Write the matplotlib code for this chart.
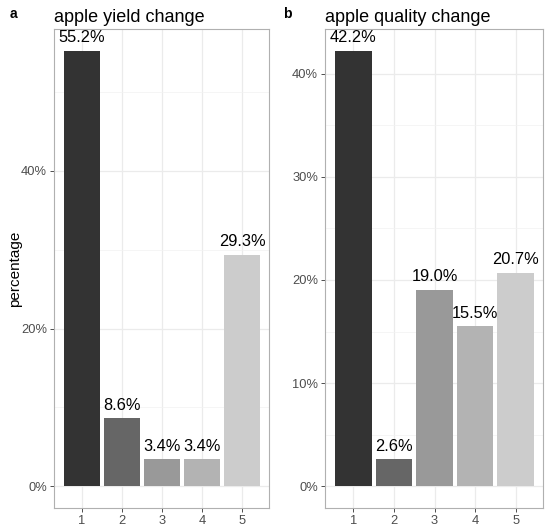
import numpy as np
import matplotlib.pyplot as plt
from matplotlib.ticker import MultipleLocator, FuncFormatter

plt.rcParams['font.family'] = ['Liberation Sans', 'DejaVu Sans']

categories = [1, 2, 3, 4, 5]
yield_pct = [55.2, 8.6, 3.4, 3.4, 29.3]
quality_pct = [42.2, 2.6, 19.0, 15.5, 20.7]
bar_colors = ['#333333', '#666666', '#999999', '#b3b3b3', '#cccccc']


def pct(v, pos):
    return '%d%%' % round(v)


def draw_panel(ax, values, title, major, minor):
    x = np.array(categories)
    top = max(values)
    ax.set_xlim(0.3, 5.67)
    ax.set_ylim(-0.05 * top, top * 1.05)
    ax.yaxis.set_major_locator(MultipleLocator(major))
    ax.yaxis.set_minor_locator(MultipleLocator(minor))
    ax.yaxis.set_major_formatter(FuncFormatter(pct))
    ax.set_xticks(x)
    ax.grid(True, which='major', color='#ebebeb', lw=0.9, zorder=0)
    ax.grid(True, which='minor', axis='y', color='#f2f2f2', lw=0.5, zorder=0)
    ax.set_axisbelow(True)
    ax.bar(x, values, width=0.9, color=bar_colors, zorder=2)
    for xi, v in zip(x, values):
        ax.text(xi, v + 0.012 * top * 1.1, '%.1f%%' % v, ha='center', va='bottom',
                fontsize=11.8, color='black', zorder=3)
    for s in ax.spines.values():
        s.set_color('#b0b0b0')
        s.set_linewidth(0.8)
    ax.tick_params(axis='both', which='major', colors='#4d4d4d', labelsize=9.3,
                   length=3, width=0.7, pad=2, labelcolor='#4d4d4d')
    ax.tick_params(axis='y', which='minor', length=0)
    ax.set_title(title, loc='left', fontsize=13, pad=5)


fig = plt.figure(figsize=(5.5, 5.3), dpi=100)
ax1 = fig.add_axes([0.098, 0.0415, 0.391, 0.9035])
ax2 = fig.add_axes([0.591, 0.0415, 0.396, 0.9035])

draw_panel(ax1, yield_pct, 'apple yield change', 20, 10)
draw_panel(ax2, quality_pct, 'apple quality change', 10, 5)
ax1.set_ylabel('percentage', fontsize=11)
ax1.yaxis.set_label_coords(-0.148, 0.5)

fig.text(0.018, 0.973, 'a', fontsize=10, fontweight='bold', va='center')
fig.text(0.514, 0.973, 'b', fontsize=10, fontweight='bold', va='center')

fig.savefig('out.png', dpi=100)
